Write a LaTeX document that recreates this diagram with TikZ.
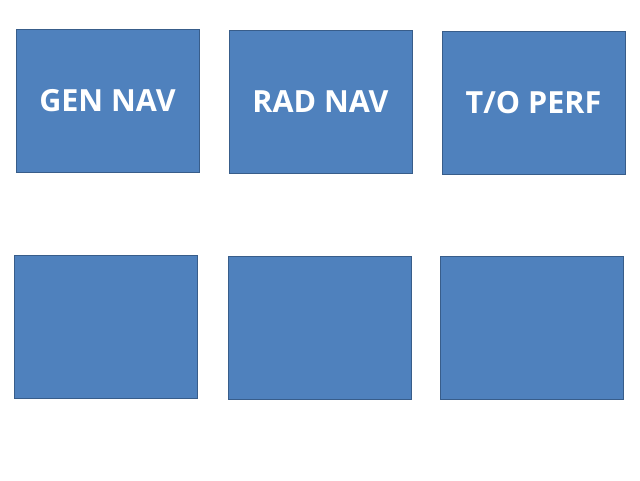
\documentclass[tikz,border=0pt]{standalone}
\usepackage{fontspec}
\setmainfont{Open Sans}
\usepackage{tikz}
\usetikzlibrary{positioning}

\definecolor{boxblue}{HTML}{4F81BD}
\definecolor{boxedge}{HTML}{385D8A}

\begin{document}
\begin{tikzpicture}[x=1pt,y=-1pt,
			mybox/.style={draw=boxedge,fill=boxblue,line width=1pt,minimum width=183pt,minimum height=143pt,inner sep=0pt,text=white,font=\bfseries\fontsize{30.5}{36}\selectfont}
		]
		\useasboundingbox (0,0) rectangle (640,480);
		\node[mybox] (gen) at (107.5,100.5) {GEN NAV};
		\node[mybox] (rad) at (320.5,102) {RAD NAV};
		\node[mybox] (perf) at (533.5,103) {T/O PERF};

		\node[mybox] (bl) at (105.5,327) {};
		\node[mybox] (bm) at (319.5,328) {};
		\node[mybox] (br) at (531.5,328) {};

	\end{tikzpicture}
\end{document}
